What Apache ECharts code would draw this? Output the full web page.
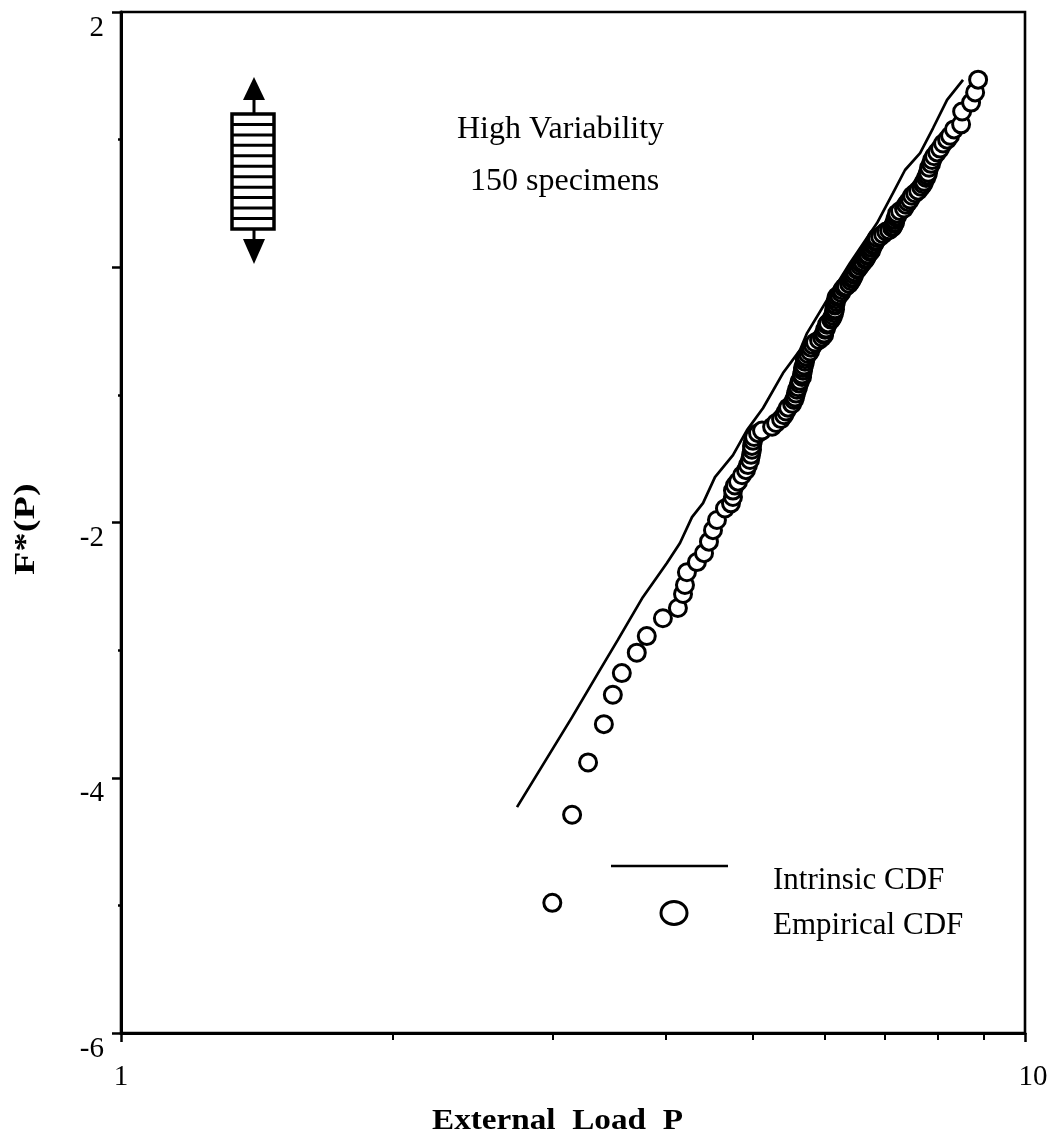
<!DOCTYPE html>
<html>
<head>
<meta charset="utf-8">
<style>html,body{margin:0;padding:0;background:#fff}#c{width:1052px;height:1138px}</style>
<script src="https://cdn.jsdelivr.net/npm/echarts@6/dist/echarts.min.js"></script>
</head>
<body>
<div id="c"></div>
<script>
var yTickLabels = ['2', '', '-2', '-4', '-6'];
var xTickLabels = ['1', '10'];
var xMinorTickValues = [2, 3, 4, 5, 6, 7, 8, 9];

var intrinsicP = [2.742,3.155,3.386,3.545,3.778,4.017,4.153,4.282,4.404,4.54,4.753,4.926,5.132,5.399,5.638,5.74,6.04,6.404,6.86,7.146,7.367,7.655,7.913,8.2,8.54];
var intrinsicF = [-4.23,-3.525,-3.157,-2.92,-2.585,-2.318,-2.161,-1.958,-1.848,-1.644,-1.472,-1.276,-1.103,-0.829,-0.649,-0.516,-0.257,0.033,0.346,0.582,0.762,0.895,1.091,1.311,1.468];

var empiricalP = [3.0,3.155,3.286,3.421,3.5,3.581,3.72,3.816,3.976,4.131,4.185,4.206,4.227,4.336,4.415,4.471,4.517,4.563,4.657,4.729,
4.753,4.753,4.777,4.814,4.864,4.913,4.938,4.964,4.977,4.989,4.989,5.002,5.015,5.066,5.118,5.251,5.304,5.372,5.413,5.441,
5.469,5.525,5.553,5.567,5.581,5.595,5.61,5.624,5.638,5.667,5.667,5.681,5.681,5.696,5.71,5.71,5.725,5.754,5.784,5.799,
5.828,5.858,5.918,5.963,5.994,5.994,6.009,6.024,6.04,6.055,6.102,6.117,6.133,6.149,6.149,6.164,6.164,6.164,6.18,6.18,
6.195,6.227,6.259,6.275,6.307,6.339,6.388,6.42,6.437,6.453,6.47,6.486,6.52,6.537,6.57,6.587,6.62,6.654,6.67,6.688,
6.705,6.739,6.756,6.773,6.79,6.808,6.825,6.843,6.86,6.913,6.966,7.02,7.074,7.128,7.146,7.164,7.183,7.183,7.201,7.22,
7.22,7.274,7.348,7.386,7.424,7.462,7.5,7.557,7.616,7.675,7.714,7.733,7.773,7.793,7.812,7.832,7.872,7.892,7.933,7.994,
8.055,8.117,8.2,8.262,8.346,8.498,8.52,8.717,8.807,8.874];
var empiricalF = [-4.98,-4.29,-3.88,-3.58,-3.35,-3.18,-3.02,-2.89,-2.75,-2.67,-2.56,-2.49,-2.39,-2.31,-2.24,-2.15,-2.06,-1.98,-1.89,-1.85,
-1.8,-1.75,-1.71,-1.68,-1.63,-1.59,-1.55,-1.51,-1.47,-1.43,-1.4,-1.36,-1.33,-1.3,-1.28,-1.25,-1.22,-1.19,-1.16,-1.13,
-1.1,-1.07,-1.04,-1.02,-0.99,-0.96,-0.94,-0.91,-0.89,-0.86,-0.84,-0.81,-0.79,-0.77,-0.74,-0.72,-0.7,-0.68,-0.66,-0.63,
-0.61,-0.59,-0.57,-0.55,-0.53,-0.52,-0.49,-0.48,-0.45,-0.44,-0.41,-0.4,-0.38,-0.36,-0.34,-0.33,-0.3,-0.29,-0.27,-0.25,
-0.23,-0.22,-0.2,-0.18,-0.16,-0.15,-0.13,-0.11,-0.09,-0.08,-0.06,-0.04,-0.02,-0.01,0.01,0.03,0.04,0.06,0.07,0.09,
0.1,0.12,0.13,0.15,0.17,0.18,0.2,0.21,0.23,0.24,0.26,0.28,0.29,0.31,0.32,0.34,0.35,0.37,0.39,0.4,
0.42,0.44,0.46,0.49,0.51,0.53,0.56,0.58,0.6,0.63,0.65,0.67,0.7,0.72,0.74,0.78,0.81,0.84,0.87,0.9,
0.93,0.97,1.0,1.03,1.08,1.12,1.22,1.29,1.37,1.47];

function zip(a, b) { return a.map(function (v, i) { return [v, b[i]]; }); }

var SERIF = '"Liberation Serif","Times New Roman",serif';
function label(text, x, y, size, weight, opts) {
  var o = {
    type: 'text', x: x, y: y,
    style: { text: text, font: (weight || 'normal') + ' ' + size + 'px ' + SERIF, fill: '#000', verticalAlign: 'middle' }
  };
  for (var k in (opts || {})) o[k] = opts[k];
  return o;
}

// specimen glyph
var glyph = [
  { type: 'line', shape: { x1: 254, y1: 100, x2: 254, y2: 113 }, style: { stroke: '#000', lineWidth: 3 } },
  { type: 'line', shape: { x1: 254, y1: 229, x2: 254, y2: 240 }, style: { stroke: '#000', lineWidth: 3 } },
  { type: 'polygon', shape: { points: [[254, 77], [243, 100], [265, 100]] }, style: { fill: '#000' } },
  { type: 'polygon', shape: { points: [[243, 239], [265, 239], [254, 264]] }, style: { fill: '#000' } },
  { type: 'rect', shape: { x: 232, y: 114, width: 42, height: 115 }, style: { fill: '#fff', stroke: '#000', lineWidth: 3.5 } }
];
for (var s = 1; s <= 10; s++) {
  var yy = 114 + s * 10.45;
  glyph.push({ type: 'line', shape: { x1: 232, y1: yy, x2: 274, y2: yy }, style: { stroke: '#000', lineWidth: 3 } });
}

var chart = echarts.init(document.getElementById('c'), null, { renderer: 'canvas', width: 1052, height: 1138 });
chart.setOption({
  animation: false,
  backgroundColor: '#fff',
  grid: { left: 121, top: 12, width: 904, height: 1021, show: true, borderColor: '#000', borderWidth: 2.6, backgroundColor: 'transparent' },
  xAxis: [
    {
      type: 'log', logBase: 10, min: 1, max: 10, gridIndex: 0,
      axisLine: { show: true, onZero: false, lineStyle: { color: '#000', width: 3 } },
      axisTick: { show: true, length: 9, lineStyle: { color: '#000', width: 2.5 } },
      splitLine: { show: false },
      axisLabel: {
        color: '#000', fontFamily: SERIF, fontSize: 29, margin: 30,
        formatter: function (v) { return v === 1 ? '{a|' + xTickLabels[0] + '}' : '{b|' + xTickLabels[1] + '}'; },
        rich: { a: { fontFamily: SERIF, fontSize: 29, color: '#000' }, b: { fontFamily: SERIF, fontSize: 29, color: '#000', padding: [0, 0, 0, 16] } }
      }
    },
    {
      type: 'log', logBase: 10, min: 1, max: 10, gridIndex: 0, position: 'bottom',
      axisLine: { show: false, onZero: false },
      axisTick: { show: true, length: 7, customValues: xMinorTickValues, lineStyle: { color: '#000', width: 2 } },
      axisLabel: { show: false },
      splitLine: { show: false }
    }
  ],
  yAxis: {
    type: 'value', min: -6, max: 2, interval: 2,
    axisLine: { show: true, onZero: false, lineStyle: { color: '#000', width: 3 } },
    axisTick: { show: true, length: 9, lineStyle: { color: '#000', width: 2.5 } },
    minorTick: { show: true, splitNumber: 2, length: 3, lineStyle: { color: '#000', width: 2.5 } },
    splitLine: { show: false },
    axisLabel: {
      color: '#000', fontFamily: SERIF, fontSize: 29, margin: 17, verticalAlign: 'top', lineHeight: 32,
      formatter: function (v) { return yTickLabels[(2 - v) / 2]; }
    }
  },
  series: [
    {
      name: 'Intrinsic CDF', type: 'line', xAxisIndex: 0, data: zip(intrinsicP, intrinsicF),
      showSymbol: false, symbol: 'none', smooth: false, lineStyle: { color: '#000', width: 2.7 }, z: 2
    },
    {
      name: 'Empirical CDF', type: 'scatter', xAxisIndex: 0, data: zip(empiricalP, empiricalF),
      symbol: 'circle', symbolSize: 17, itemStyle: { color: '#fff', borderColor: '#000', borderWidth: 3, opacity: 1 }, z: 3
    }
  ],
  graphic: [{ type: 'group', silent: true, children: glyph.concat([
    label('High Variability', 457, 130, 32),
    label('150 specimens', 470, 182, 32),
    { type: 'line', shape: { x1: 611, y1: 866, x2: 728, y2: 866 }, style: { stroke: '#000', lineWidth: 2.7 } },
    { type: 'ellipse', shape: { cx: 674, cy: 913, rx: 13, ry: 11.5 }, style: { fill: '#fff', stroke: '#000', lineWidth: 3 } },
    label('Intrinsic CDF', 773, 881, 31),
    label('Empirical CDF', 773, 926, 31),
    label('External  Load  P', 432, 1121, 30, 'bold', { scaleX: 1.107 }),
    label('F*(P)', 26, 575, 30, 'bold', { rotation: Math.PI / 2, scaleX: 1.28 })
  ]) }]
});
</script>
</body>
</html>
